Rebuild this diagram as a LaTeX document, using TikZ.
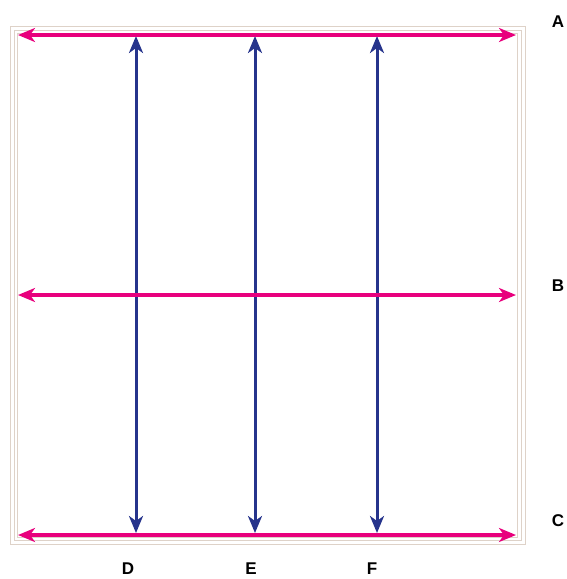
\documentclass[tikz,border=0pt]{standalone}
\usepackage{fontspec}
\setmainfont{Liberation Sans}
\usetikzlibrary{arrows.meta,positioning}
\definecolor{hline}{RGB}{232,0,125}
\definecolor{vline}{RGB}{38,52,140}
\definecolor{frame}{RGB}{222,210,200}

\begin{document}
\begin{tikzpicture}[x=1pt, y=-1pt,
  every node/.style={font=\fontsize{17}{20}\selectfont\bfseries},
  hrow/.style={hline, line width=3.2pt, {Stealth[length=17pt,width=14pt,inset=5pt]}-{Stealth[length=17pt,width=14pt,inset=5pt]}},
  vcol/.style={vline, line width=3pt, {Stealth[length=17pt,width=14pt,inset=5pt]}-{Stealth[length=17pt,width=14pt,inset=5pt]}},
  rim/.style={frame, line width=1pt}]
\useasboundingbox (0,0) rectangle (566,579);
% frame
\draw[rim] (10,26) rectangle (525,544);
\draw[rim] (14,30) rectangle (521,540);
\draw[rim] (17,33) rectangle (517,537);
% end points
\coordinate (aL) at (18,35);  \coordinate (aR) at (516,35);
\coordinate (bL) at (18,295); \coordinate (bR) at (516,295);
\coordinate (cL) at (18,535); \coordinate (cR) at (516,535);
\coordinate (dT) at (136,36); \coordinate (dB) at (136,533);
\coordinate (eT) at (255,36); \coordinate (eB) at (255,533);
\coordinate (fT) at (377,36); \coordinate (fB) at (377,533);
% vertical arrows
\draw[vcol] (dT) -- (dB);
\draw[vcol] (eT) -- (eB);
\draw[vcol] (fT) -- (fB);
% horizontal arrows
\draw[hrow] (aL) -- (aR);
\draw[hrow] (bL) -- (bR);
\draw[hrow] (cL) -- (cR);
% labels
\node (A) at (558,22) {A};
\node (B) at (558,286) {B};
\node (C) at (558,521) {C};
\node (D) at (128,569) {D};
\node (E) at (251,569) {E};
\node (F) at (372,569) {F};
\end{tikzpicture}
\end{document}
